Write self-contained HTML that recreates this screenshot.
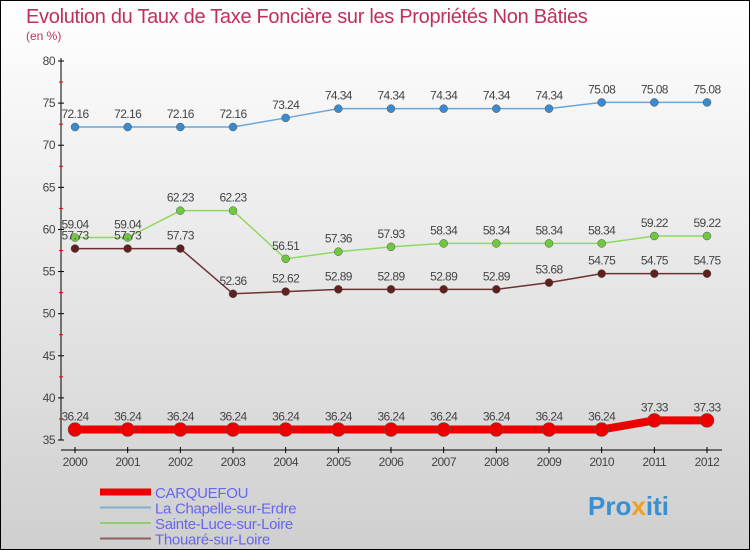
<!DOCTYPE html>
<html><head><meta charset="utf-8"><style>
body{margin:0}
#c{width:750px;height:550px;position:relative;overflow:hidden;font-family:"Liberation Sans",sans-serif}
</style></head><body>
<div id="c">
<svg id="s" width="750" height="550" xmlns="http://www.w3.org/2000/svg">
<defs><linearGradient id="bg" x1="0" y1="0" x2="0" y2="1"><stop offset="0" stop-color="#ffffff"/><stop offset="1" stop-color="#cfcfcf"/></linearGradient></defs>
<rect x="0.5" y="0.5" width="749" height="549" fill="url(#bg)" stroke="#000"/>
<text x="26" y="23" font-size="20" fill="#c0305a" letter-spacing="-0.3">Evolution du Taux de Taxe Foncière sur les Propriétés Non Bâties</text>
<text x="26" y="40" font-size="12" fill="#c0305a">(en %)</text>
<g id="g"></g>
<text x="588" y="515" font-size="26" font-weight="bold" fill="#3a8fd0">Pro<tspan fill="#f0a020">x</tspan><tspan fill="#3a8fd0">iti</tspan></text>
</svg>
</div>
<script>
const years=[2000,2001,2002,2003,2004,2005,2006,2007,2008,2009,2010,2011,2012];
const seriesNames=["CARQUEFOU","La Chapelle-sur-Erdre","Sainte-Luce-sur-Loire","Thouaré-sur-Loire"];
const carquefou=[36.24,36.24,36.24,36.24,36.24,36.24,36.24,36.24,36.24,36.24,36.24,37.33,37.33];
const chapelle=[72.16,72.16,72.16,72.16,73.24,74.34,74.34,74.34,74.34,74.34,75.08,75.08,75.08];
const sainteLuce=[59.04,59.04,62.23,62.23,56.51,57.36,57.93,58.34,58.34,58.34,58.34,59.22,59.22];
const thouare=[57.73,57.73,57.73,52.36,52.62,52.89,52.89,52.89,52.89,53.68,54.75,54.75,54.75];
const yTicks=[35,40,45,50,55,60,65,70,75,80];
const NS="http://www.w3.org/2000/svg";
const g=document.getElementById('g');
const X=i=>75+i*(707-75)/(years.length-1);
const Y=v=>440-(v-35)*(440-61)/45;
function mk(t,a,p){const e=document.createElementNS(NS,t);for(const k in a)e.setAttribute(k,a[k]);(p||g).appendChild(e);return e;}
let ax=mk('line',{x1:61,y1:58,x2:61,y2:440,stroke:'#000'});


let xa=mk('line',{x1:61,y1:450,x2:722,y2:450,stroke:'#000'});


yTicks.forEach(v=>{
 mk('line',{x1:58,y1:Y(v),x2:64,y2:Y(v),stroke:'#000'});
 if(v<80) mk('line',{x1:59,y1:Y(v+2.5),x2:63,y2:Y(v+2.5),stroke:'#e00'});
 const t=mk('text',{x:55,y:Y(v)+4,'font-size':12,'text-anchor':'end',fill:'#444','letter-spacing':'-0.5'});t.textContent=v;
 
 
});
years.forEach((yr,i)=>{
 mk('line',{x1:X(i),y1:447,x2:X(i),y2:453,stroke:'#000'});
 const t=mk('text',{x:X(i),y:466,'font-size':12,'text-anchor':'middle',fill:'#444','letter-spacing':'-0.5'});t.textContent=yr;
 
 
});
function series(data,col,dot,w,r,name){
 const pts=data.map((v,i)=>X(i)+','+Y(v)).join(' ');
 const l=mk('polyline',{points:pts,fill:'none',stroke:col,'stroke-width':w});
 
 
 data.forEach((v,i)=>{
  const c=mk('circle',{cx:X(i),cy:Y(v),r:r,fill:dot,stroke:'#555','stroke-width':0.5});
  
  
  const t=mk('text',{x:X(i),y:Y(v)-9,'font-size':12,'text-anchor':'middle',fill:'#444','letter-spacing':'-0.6'});t.textContent=v.toFixed(2).replace(/0$/,'').replace(/\.$/,'');
  
  
 });
}
series(chapelle,'#6aa6d8','#3a8ad0',1.5,4,'chapelle');
series(sainteLuce,'#90d860','#70c840',1.5,4,'sainte-luce');
series(thouare,'#703030','#602020',1.5,4,'thouare');
series(carquefou,'#ee0000','#ee0000',8,7,'carquefou');
const cols=['#ee0000','#80b0d0','#90d070','#906060'],ws=[7,2,2,2];
seriesNames.forEach((n,i)=>{
 const y=492+i*15.5;
 const l=mk('line',{x1:100,y1:y,x2:151,y2:y,stroke:cols[i],'stroke-width':ws[i]});
 
 
 const t=mk('text',{x:155,y:y+6,'font-size':15,fill:'#6666ee','letter-spacing':'-0.3'});t.textContent=n;
 
 
});
</script>
</body></html>
